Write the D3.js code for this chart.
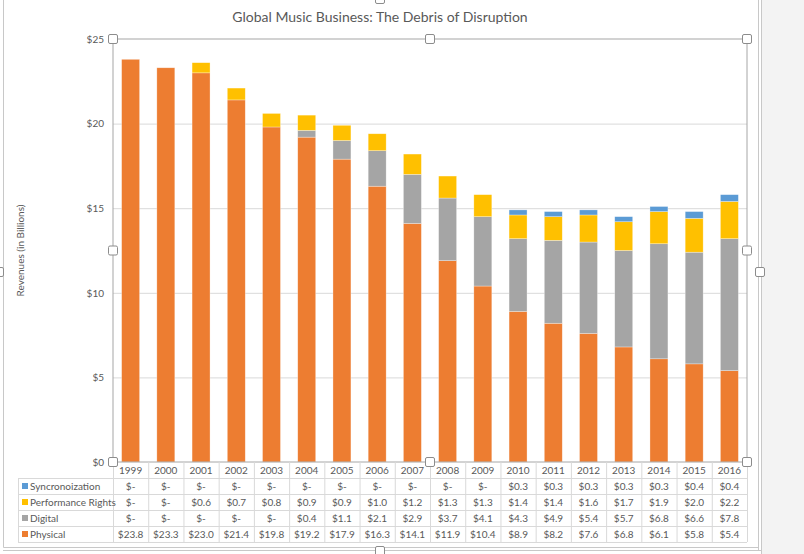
<!DOCTYPE html>
<html>
<head>
<meta charset="utf-8">
<script src="https://cdn.jsdelivr.net/npm/d3@7"></script>
<style>
  body { margin: 0; background: #fff; }
  text { font-family: Lato, "Open Sans", sans-serif; fill: #595959; }
</style>
</head>
<body>
<svg id="chart" width="804" height="554"></svg>
<script>
let years = ["1999","2000","2001","2002","2003","2004","2005","2006","2007","2008",
             "2009","2010","2011","2012","2013","2014","2015","2016"];
let physical = [23.8,23.3,23.0,21.4,19.8,19.2,17.9,16.3,14.1,11.9,10.4,8.9,8.2,7.6,6.8,6.1,5.8,5.4];
let digital = [0,0,0,0,0,0.4,1.1,2.1,2.9,3.7,4.1,4.3,4.9,5.4,5.7,6.8,6.6,7.8];
let performance = [0,0,0.6,0.7,0.8,0.9,0.9,1.0,1.2,1.3,1.3,1.4,1.4,1.6,1.7,1.9,2.0,2.2];
let sync = [0,0,0,0,0,0,0,0,0,0,0,0.3,0.3,0.3,0.3,0.3,0.4,0.4];
let yTicks = [0, 5, 10, 15, 20, 25];

// bottom to top
let series = [
  {key: "Physical", values: physical, color: "#ED7D31"},
  {key: "Digital", values: digital, color: "#A5A5A5"},
  {key: "Performance Rights", values: performance, color: "#FFC000"},
  {key: "Syncronoization", values: sync, color: "#5B9BD5"}
];

let margin = {top: 39, left: 113, right: 57, bottom: 92};
let W = 804, H = 554;
let plotW = W - margin.left - margin.right;
let plotH = H - margin.top - margin.bottom;

let svg = d3.select("#chart");

// outside of chart area (the grey window part on the right)
svg.append("rect").attr("x", 762).attr("y", 0).attr("width", W - 762).attr("height", H)
  .attr("fill", "#f3f3f3");
svg.append("line").attr("x1", 758.5).attr("x2", 758.5).attr("y1", 0).attr("y2", 550)
  .attr("stroke", "#c8c8c8");
svg.append("line").attr("x1", 761.5).attr("x2", 761.5).attr("y1", 0).attr("y2", 554)
  .attr("stroke", "#c8c8c8");
// chart area border
svg.append("path").attr("d", "M3.5,0V547.5H758.5").attr("fill", "none").attr("stroke", "#c8c8c8");
svg.append("line").attr("x1", 3).attr("x2", 762).attr("y1", 550.5).attr("y2", 550.5)
  .attr("stroke", "#c8c8c8");

let g = svg.append("g").attr("transform", `translate(${margin.left},${margin.top})`);

let x = d3.scaleBand().domain(years).range([0, plotW]).paddingInner(0.49).paddingOuter(0.245);
let xCol = d3.scaleBand().domain(years).range([0, plotW]);
let y = d3.scaleLinear().domain([0, 25]).range([plotH, 0]);

// gridlines
g.append("g")
  .call(d3.axisLeft(y).tickValues(yTicks.slice(1, -1)).tickSize(-plotW).tickFormat(""))
  .call(a => a.select(".domain").remove())
  .call(a => a.selectAll("line").attr("stroke", "#d9d9d9"));

// stacked bars
let rows = years.map((yr, i) => {
  let r = {year: yr};
  series.forEach(s => r[s.key] = s.values[i]);
  return r;
});
let stack = d3.stack().keys(series.map(s => s.key))(rows);

g.selectAll("g.layer").data(stack).join("g")
  .attr("class", "layer")
  .attr("fill", (d, i) => series[i].color)
  .selectAll("rect").data(d => d).join("rect")
  .attr("x", d => x(d.data.year))
  .attr("width", x.bandwidth())
  .attr("y", d => y(d[1]))
  .attr("height", d => y(d[0]) - y(d[1]))
  .attr("stroke", "#fff").attr("stroke-opacity", 0.5).attr("stroke-width", 0.6);

// y axis labels
g.append("g")
  .call(d3.axisLeft(y).tickValues(yTicks).tickSize(0).tickPadding(9).tickFormat(d => "$" + d))
  .call(a => a.select(".domain").remove())
  .call(a => a.selectAll("text").attr("font-size", 10).style("fill", "#595959"));

// plot area border (selected)
g.append("rect").attr("x", 0).attr("y", 0).attr("width", plotW).attr("height", plotH)
  .attr("fill", "none").attr("stroke", "#a6a6a6").attr("stroke-width", 1);

// data table
let rowH = 16;
let tableTop = plotH;
let labelX = 18 - margin.left;
let tableRows = series.slice().reverse();
let tg = g.append("g").attr("transform", `translate(0,${tableTop})`);
let lineCol = "#d9d9d9";

// horizontal lines
[1, 2, 3, 4, 5].forEach(k => {
  tg.append("line").attr("x1", labelX).attr("x2", plotW)
    .attr("y1", k * rowH + 0.5).attr("y2", k * rowH + 0.5).attr("stroke", lineCol);
});
// vertical lines
years.forEach(yr => {
  tg.append("line").attr("x1", xCol(yr) + xCol.bandwidth() + 0.5).attr("x2", xCol(yr) + xCol.bandwidth() + 0.5)
    .attr("y1", 0).attr("y2", 5 * rowH).attr("stroke", lineCol);
});
tg.append("line").attr("x1", 0.5).attr("x2", 0.5).attr("y1", 0).attr("y2", 5 * rowH).attr("stroke", lineCol);
tg.append("line").attr("x1", labelX + 0.5).attr("x2", labelX + 0.5).attr("y1", rowH).attr("y2", 5 * rowH).attr("stroke", lineCol);

// year header
tg.selectAll("text.year").data(years).join("text")
  .attr("class", "year")
  .attr("x", d => xCol(d) + xCol.bandwidth() / 2)
  .attr("y", rowH / 2 + 4)
  .attr("text-anchor", "middle").attr("font-size", 10)
  .text(d => d);

let fmt = v => v === 0 ? "$-" : "$" + d3.format(".1f")(v);
tableRows.forEach((s, r) => {
  let ry = (r + 1) * rowH;
  tg.append("rect").attr("x", labelX + 4).attr("y", ry + rowH / 2 - 3)
    .attr("width", 6).attr("height", 6).attr("fill", s.color);
  tg.append("text").attr("x", labelX + 12).attr("y", ry + rowH / 2 + 4)
    .attr("font-size", 10).text(s.key);
  tg.selectAll(null).data(s.values).join("text")
    .attr("x", (d, i) => xCol(years[i]) + xCol.bandwidth() / 2)
    .attr("y", ry + rowH / 2 + 4)
    .attr("text-anchor", "middle").attr("font-size", 10)
    .text(d => fmt(d));
});

// selection handles
let handle = (cx, cy) => svg.append("rect")
  .attr("x", cx - 4.5).attr("y", cy - 4.5).attr("width", 9).attr("height", 9).attr("rx", 1.5)
  .attr("fill", "#fff").attr("stroke", "#8c8c8c");
[[0, 0], [plotW / 2, 0], [plotW, 0], [0, plotH / 2], [plotW, plotH / 2], [0, plotH], [plotW / 2, plotH], [plotW, plotH]]
  .forEach(p => handle(margin.left + p[0], margin.top + p[1]));
handle(380, -1);
handle(-1, 272);
handle(760, 272);
handle(380, 551);

// title
svg.append("text").attr("x", 380).attr("y", 22).attr("text-anchor", "middle")
  .attr("font-size", 14).text("Global Music Business: The Debris of Disruption");

// y title
svg.append("text").attr("transform", `translate(24,${margin.top + plotH / 2}) rotate(-90)`)
  .attr("text-anchor", "middle").attr("font-size", 10).text("Revenues (in Billions)");
</script>
</body>
</html>
